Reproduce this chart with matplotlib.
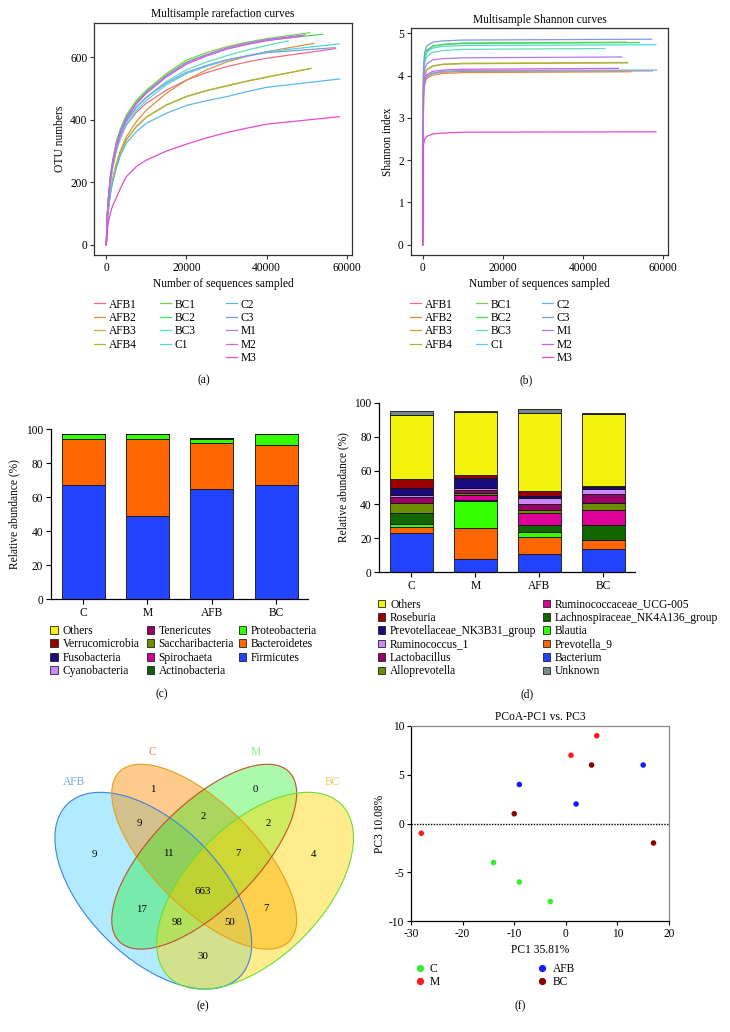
import matplotlib
matplotlib.use("Agg")
import matplotlib.pyplot as plt
import numpy as np
from matplotlib.lines import Line2D
from matplotlib.patches import Ellipse, Patch

plt.rcParams["font.family"] = ["Liberation Serif", "DejaVu Serif"]
plt.rcParams["axes.unicode_minus"] = False
FS = 8.3
W, H = 730, 1032

# ---- (a)/(b) rarefaction + shannon ----
samples = ["AFB1", "AFB2", "AFB3", "AFB4", "BC1", "BC2", "BC3",
           "C1", "C2", "C3", "M1", "M2", "M3"]
sample_colors = ["#EC6F86", "#E0903A", "#C9A640", "#A8B83A", "#74D24A", "#48D85A",
                 "#5EE0B0", "#4ED8D8", "#5AB8E8", "#7E98EA", "#B07AEA", "#D45CE6",
                 "#E64AD2"]
seq_depth = [57250, 51840, 51090, 51000, 50840, 54000, 45430,
             58160, 58330, 57080, 49600, 48800, 58170]

rare_depths = [0, 250, 500, 1000, 1500, 2500, 3500, 5000, 7500, 10000,
               15000, 20000, 25000, 30000, 35000, 40000]
otu_values = [
    [0, 88, 135, 195, 240, 300, 340, 383, 424, 453, 495, 527, 551, 570, 585, 597, 628],
    [0, 70, 110, 165, 205, 260, 300, 346, 394, 431, 485, 527, 560, 585, 603, 618, 645],
    [0, 70, 110, 165, 200, 255, 295, 335, 378, 408, 447, 474, 493, 508, 523, 536, 565],
    [0, 72, 112, 166, 201, 256, 296, 336, 379, 409, 448, 475, 494, 509, 524, 537, 564],
    [0, 100, 150, 220, 265, 330, 370, 415, 462, 495, 548, 591, 615, 634, 648, 660, 679],
    [0, 96, 145, 215, 260, 325, 365, 410, 457, 490, 543, 585, 609, 628, 643, 655, 674],
    [0, 92, 140, 205, 250, 315, 355, 395, 440, 472, 523, 560, 585, 605, 623, 638, 653],
    [0, 90, 138, 200, 245, 305, 345, 385, 430, 462, 512, 548, 571, 590, 605, 618, 643],
    [0, 72, 110, 160, 195, 245, 285, 325, 362, 389, 421, 446, 461, 474, 490, 504, 531],
    [0, 92, 140, 205, 250, 312, 352, 395, 440, 472, 518, 552, 574, 592, 604, 615, 631],
    [0, 96, 145, 212, 258, 322, 362, 405, 453, 488, 541, 582, 608, 630, 645, 657, 672],
    [0, 94, 142, 210, 255, 320, 360, 402, 450, 485, 537, 578, 604, 626, 641, 653, 668],
    [0, 48, 70, 100, 122, 150, 180, 218, 250, 271, 300, 322, 342, 359, 373, 386, 410],
]

shannon_depths = [0, 200, 500, 1000, 2500, 5000, 10000]
shannon_values = [
    [0, 3.55, 3.85, 3.97, 4.05, 4.08, 4.10, 4.11],
    [0, 3.50, 3.80, 3.93, 4.01, 4.05, 4.07, 4.09],
    [0, 3.65, 4.00, 4.13, 4.22, 4.26, 4.28, 4.30],
    [0, 3.66, 4.00, 4.14, 4.23, 4.27, 4.29, 4.31],
    [0, 4.10, 4.45, 4.60, 4.70, 4.74, 4.77, 4.79],
    [0, 4.05, 4.42, 4.58, 4.69, 4.73, 4.76, 4.78],
    [0, 3.95, 4.30, 4.45, 4.55, 4.59, 4.62, 4.64],
    [0, 4.05, 4.40, 4.55, 4.65, 4.69, 4.71, 4.73],
    [0, 3.55, 3.85, 3.98, 4.06, 4.10, 4.12, 4.13],
    [0, 4.20, 4.55, 4.70, 4.79, 4.82, 4.84, 4.86],
    [0, 3.80, 4.15, 4.28, 4.37, 4.40, 4.42, 4.44],
    [0, 3.60, 3.90, 4.02, 4.10, 4.13, 4.15, 4.17],
    [0, 2.35, 2.50, 2.56, 2.62, 2.64, 2.66, 2.67],
]

# ---- (c) phylum ----
groups = ["C", "M", "AFB", "BC"]
phyla = ["Firmicutes", "Bacteroidetes", "Proteobacteria", "Actinobacteria",
         "Spirochaeta", "Saccharibacteria", "Tenericutes", "Cyanobacteria",
         "Fusobacteria", "Verrucomicrobia", "Others"]
phyla_colors = ["#2244FF", "#FF6600", "#33FF00", "#0E5E0E", "#CC0099", "#6B8E00",
                "#990066", "#CC88FF", "#1A0A80", "#990000", "#F2F20A"]
phyla_values = [
    [67.0, 48.9, 65.0, 67.0],
    [27.1, 45.2, 26.7, 24.0],
    [3.0, 3.0, 2.8, 6.1],
    [0.0, 0.0, 0.0, 0.0],
    [0.0, 0.0, 0.0, 0.0],
    [0.0, 0.0, 0.6, 0.0],
    [0.0, 0.0, 0.0, 0.0],
    [0.0, 0.0, 0.0, 0.0],
    [0.0, 0.0, 0.0, 0.0],
    [0.0, 0.0, 0.0, 0.0],
    [0.0, 0.0, 0.0, 0.0],
]
phyla_legend_order = ["Others", "Verrucomicrobia", "Fusobacteria", "Cyanobacteria",
                      "Tenericutes", "Saccharibacteria", "Spirochaeta", "Actinobacteria",
                      "Proteobacteria", "Bacteroidetes", "Firmicutes"]

# ---- (d) genus ----
genera = ["Bacterium", "Prevotella_9", "Blautia", "Lachnospiraceae_NK4A136_group",
          "Ruminococcaceae_UCG-005", "Alloprevotella", "Lactobacillus",
          "Ruminococcus_1", "Prevotellaceae_NK3B31_group", "Roseburia", "Others",
          "Unknown"]
genus_colors = ["#2244FF", "#FF6600", "#33FF00", "#116600", "#DD0099", "#6B8E00",
                "#990066", "#CC88FF", "#1A0A80", "#990000", "#F2F20A", "#7A8A8A"]
genus_values = [
    [23.0, 8.1, 11.0, 13.9],
    [4.0, 17.8, 9.8, 5.0],
    [1.5, 16.1, 3.2, 0.0],
    [6.3, 0.8, 4.1, 9.0],
    [0.3, 3.0, 6.7, 9.0],
    [5.8, 0.7, 1.9, 4.2],
    [3.3, 1.8, 3.4, 4.9],
    [1.6, 1.7, 3.9, 2.9],
    [4.1, 5.8, 1.0, 1.2],
    [5.3, 1.4, 3.1, 1.0],
    [37.7, 37.1, 46.0, 42.0],
    [2.4, 0.6, 2.2, 1.0],
]
genus_legend_order = ["Others", "Roseburia", "Prevotellaceae_NK3B31_group",
                      "Ruminococcus_1", "Lactobacillus", "Alloprevotella",
                      "Ruminococcaceae_UCG-005", "Lachnospiraceae_NK4A136_group",
                      "Blautia", "Prevotella_9", "Bacterium", "Unknown"]

# ---- (e) venn ----
venn_sets = ["AFB", "C", "M", "BC"]
venn_counts = [1, 0, 9, 2, 2, 9, 11, 7, 4, 663, 17, 7, 98, 50, 30]

# ---- (f) PCoA ----
pcoa_groups = ["C", "M", "AFB", "BC"]
pcoa_colors = ["#33EE33", "#FF1A1A", "#1A1AFF", "#8B0000"]
pc1 = [[-14, -9, -3], [-28, 1, 6], [-9, 2, 15], [-10, 5, 17]]
pc3 = [[-4, -6, -8], [-1, 7, 9], [4, 2, 6], [1, 6, -2]]

fig = plt.figure(figsize=(W / 100, H / 100), dpi=100)


def px_axes(x0, y0, x1, y1):
    return fig.add_axes([x0 / W, 1 - y1 / H, (x1 - x0) / W, (y1 - y0) / H])


def column_legend(handles, labels, x, y, **kw):
    opts = dict(loc="upper left", bbox_to_anchor=(x / W, 1 - y / H), frameon=False,
                borderpad=0, borderaxespad=0, fontsize=FS, labelspacing=0.12,
                handletextpad=0.4)
    opts.update(kw)
    fig.legend(handles, labels, **opts)


def style_frame(ax, color="#333333"):
    for s in ax.spines.values():
        s.set_color(color)
        s.set_linewidth(0.9)
    ax.tick_params(labelsize=FS, length=3, width=0.8, color=color, pad=2)


# (a)
ax = px_axes(94.3, 22.7, 351.7, 255)
for i, name in enumerate(samples):
    ax.plot(rare_depths + [seq_depth[i]], otu_values[i], color=sample_colors[i], lw=0.9)
ax.set_xlim(-2995, 61250)
ax.set_ylim(-33, 711)
ax.set_xticks([0, 20000, 40000, 60000])
ax.set_yticks([0, 200, 400, 600])
style_frame(ax)
ax.set_title("Multisample rarefaction curves", fontsize=FS, pad=4)
ax.set_xlabel("Number of sequences sampled", fontsize=FS, labelpad=3)
ax.set_ylabel("OTU numbers", fontsize=FS, labelpad=3)

# (b)
bx = px_axes(410.7, 28.3, 668.3, 255)
for i, name in enumerate(samples):
    bx.plot(shannon_depths + [seq_depth[i]], shannon_values[i], color=sample_colors[i], lw=0.9)
bx.set_xlim(-2992, 61250)
bx.set_ylim(-0.244, 5.118)
bx.set_xticks([0, 20000, 40000, 60000])
bx.set_yticks([0, 1, 2, 3, 4, 5])
style_frame(bx)
bx.set_title("Multisample Shannon curves", fontsize=FS, pad=4)
bx.set_xlabel("Number of sequences sampled", fontsize=FS, labelpad=3)
bx.set_ylabel("Shannon index", fontsize=FS, labelpad=3)

# legends for (a) and (b): columns of 4, 4, 5
cols = [samples[0:4], samples[4:8], samples[8:13]]
for x_start in (94, 410):
    for k, col in enumerate(cols):
        hs = [Line2D([], [], color=sample_colors[samples.index(s)], lw=0.9) for s in col]
        column_legend(hs, col, x_start + k * 66, 298.5, handlelength=0.95,
                      handletextpad=0.35)
fig.text(204.3 / W, 1 - 380.7 / H, "(a)", ha="center", va="center", fontsize=FS)
fig.text(526 / W, 1 - 380.7 / H, "(b)", ha="center", va="center", fontsize=FS)


def stacked(ax, names, values, colors):
    x = np.arange(len(groups))
    bottom = np.zeros(len(groups))
    for name, vals, c in zip(names, values, colors):
        vals = np.array(vals)
        ax.bar(x, vals, bottom=bottom, width=0.67, color=c, edgecolor="#111111",
               linewidth=0.6)
        bottom += vals
    ax.set_xlim(-0.5, 3.5)
    ax.set_ylim(0, 100)
    ax.set_xticks(x)
    ax.set_xticklabels(groups)
    ax.set_yticks([0, 20, 40, 60, 80, 100])
    for s in ("top", "right"):
        ax.spines[s].set_visible(False)
    for s in ("left", "bottom"):
        ax.spines[s].set_linewidth(0.9)
    ax.tick_params(labelsize=FS, length=3.5, width=0.8, pad=2)
    ax.set_ylabel("Relative abundance (%)", fontsize=FS, labelpad=4)


# (c)
cx = px_axes(51, 429.3, 308.3, 599)
stacked(cx, phyla, phyla_values, phyla_colors)
pcol = dict(zip(phyla, phyla_colors))
for k, col in enumerate([phyla_legend_order[0:4], phyla_legend_order[4:8],
                         phyla_legend_order[8:11]]):
    hs = [Patch(facecolor=pcol[n], edgecolor="#222222", linewidth=0.6) for n in col]
    column_legend(hs, col, [50.5, 146.5, 239][k], 625, handlelength=0.65,
                  handleheight=0.65)
fig.text(161.7 / W, 1 - 694.3 / H, "(c)", ha="center", va="center", fontsize=FS)

# (d)
dx = px_axes(379.3, 402.7, 635.3, 572.3)
stacked(dx, genera, genus_values, genus_colors)
gcol = dict(zip(genera, genus_colors))
for k, col in enumerate([genus_legend_order[0:6], genus_legend_order[6:12]]):
    hs = [Patch(facecolor=gcol[n], edgecolor="#222222", linewidth=0.6) for n in col]
    column_legend(hs, col, [378, 543][k], 598.5, handlelength=0.65, handleheight=0.65)
fig.text(527.3 / W, 1 - 694.3 / H, "(d)", ha="center", va="center", fontsize=FS)

# (e) Venn
ex = fig.add_axes([0, 0, 365 / W, 332 / H])
ex.set_xlim(0, 365)
ex.set_ylim(1032, 700)
ex.axis("off")
ellipses = [
    ((153.3, 890.7), 244, 134, 45, "#00BFFF", 0.30, "#3C82E0"),
    ((204.2, 856.7), 240, 104, 45, "#FF8C00", 0.45, "#E0A020"),
    ((204.2, 856.7), 240, 104, -45, "#00EE00", 0.33, "#C0502A"),
    ((255.1, 890.7), 244, 134, -45, "#FFD700", 0.45, "#66E033"),
]
for (c, w, h, ang, fc, al, ec) in ellipses:
    ex.add_patch(Ellipse(c, w, h, angle=ang, facecolor=fc, alpha=al, edgecolor="none"))
for (c, w, h, ang, fc, al, ec) in ellipses:
    ex.add_patch(Ellipse(c, w, h, angle=ang, facecolor="none", edgecolor=ec, lw=0.8))
set_label_pos = [(74, 781.7), (152.7, 751.7), (255.3, 751.7), (332.7, 781.7)]
set_label_col = ["#6FA8DC", "#F4836B", "#88EE88", "#F2C46A"]
for name, (lx, ly), lc in zip(venn_sets, set_label_pos, set_label_col):
    ex.text(lx, ly, name, color=lc, ha="center", va="center", fontsize=FS)
count_pos = [(152.7, 789.3), (255.3, 789.3), (139, 823.3), (203.7, 816.7),
             (268.7, 823.3), (94.3, 854.3), (168.7, 854), (237.7, 854),
             (313.3, 854.3), (202.7, 891.7), (141.7, 909.3), (265.7, 908.3),
             (177.3, 922.7), (229.3, 922.7), (203.3, 956.7)]
for n, (tx, ty) in zip(venn_counts, count_pos):
    ex.text(tx, ty, str(n), ha="center", va="center", fontsize=FS - 0.5)
fig.text(202.7 / W, 1 - 1006 / H, "(e)", ha="center", va="center", fontsize=FS)

# (f) PCoA
fx = px_axes(411, 726, 669, 921)
for g, c, xs, ys in zip(pcoa_groups, pcoa_colors, pc1, pc3):
    fx.scatter(xs, ys, s=16, color=c, edgecolors="none", zorder=3)
fx.axhline(0, color="black", ls=(0, (1, 1)), lw=1.0)
fx.set_xlim(-30, 20)
fx.set_ylim(-10, 10)
fx.set_xticks([-30, -20, -10, 0, 10, 20])
fx.set_yticks([-10, -5, 0, 5, 10])
style_frame(fx, color="black")
fx.spines["top"].set_color("#888888")
fx.spines["right"].set_color("#888888")
fx.set_title("PCoA-PC1 vs. PC3", fontsize=FS, pad=4)
fx.set_xlabel("PC1 35.81%", fontsize=FS, labelpad=3)
fx.set_ylabel("PC3 10.08%", fontsize=FS, labelpad=2)
for k, idx in enumerate([[0, 1], [2, 3]]):
    hs = [Line2D([], [], ls="none", marker="o", markersize=4.2, color=pcoa_colors[i])
          for i in idx]
    column_legend(hs, [pcoa_groups[i] for i in idx], [415, 537.5][k], 963,
                  handlelength=0.8, handletextpad=0.5)
fig.text(520 / W, 1 - 1006 / H, "(f)", ha="center", va="center", fontsize=FS)

fig.savefig("out.png", dpi=100)
